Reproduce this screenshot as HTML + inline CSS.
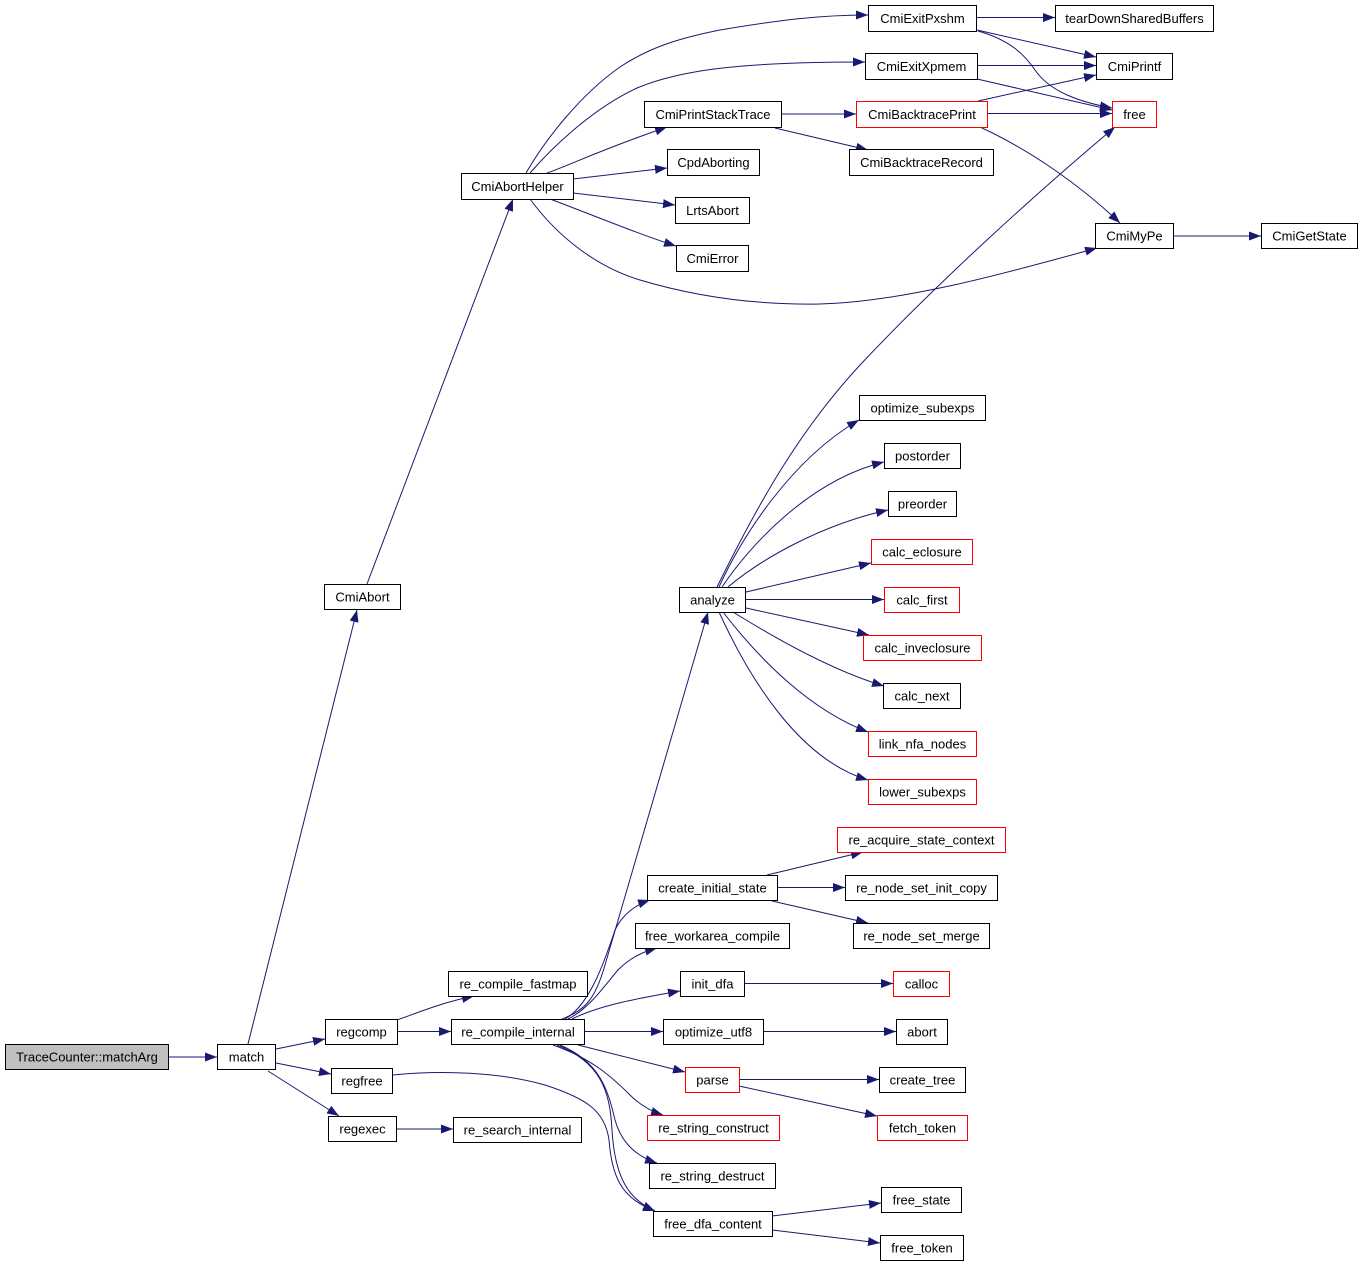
<!DOCTYPE html>
<html><head><meta charset="utf-8"><style>
html,body{margin:0;padding:0;background:#fff;}
svg{display:block;}
text{font-family:"Liberation Sans",Arial,sans-serif;font-size:13px;fill:#000;text-anchor:middle;}
.n{fill:#fff;stroke:#000;stroke-width:1;}
.r{fill:#fff;stroke:#ff0000;stroke-width:1;}
.e{fill:none;stroke:#191970;stroke-width:1;marker-end:url(#a);}
</style></head><body>
<svg width="1363" height="1264" viewBox="0 0 1363 1264" xmlns="http://www.w3.org/2000/svg">
<defs><marker id="a" markerUnits="userSpaceOnUse" markerWidth="13" markerHeight="9" refX="12" refY="4.5" orient="auto"><path d="M0,0 L12,4.5 L0,9 z" fill="#191970"/></marker></defs>
<g>
<path class="e" d="M168,1057 L217,1057"/>
<path class="e" d="M248,1044 L357,610"/>
<path class="e" d="M276,1049 L325,1039"/>
<path class="e" d="M276,1063 L331,1074"/>
<path class="e" d="M268,1071 L339,1116"/>
<path class="e" d="M367,584 L513,199"/>
<path class="e" d="M526,173 C545,140 580,95 620,67 C650,47 680,38 720,30 C780,20 820,15 868,15"/>
<path class="e" d="M530,173 C550,150 590,110 637,88 C680,70 740,62 865,62"/>
<path class="e" d="M547,173 C570,165 600,150 667,127"/>
<path class="e" d="M573,179 L667,168"/>
<path class="e" d="M573,193 L675,205"/>
<path class="e" d="M550,199 C580,210 640,235 676,246"/>
<path class="e" d="M530,199 C560,240 600,268 640,280 C700,298 760,305 820,304 C900,302 1000,275 1097,248"/>
<path class="e" d="M782,114 L856,114"/>
<path class="e" d="M775,128 L868,150"/>
<path class="e" d="M977,17.5 L1055,17.5"/>
<path class="e" d="M977,30 L1096,57"/>
<path class="e" d="M978,31 C1010,40 1025,55 1035,70 C1050,92 1080,102 1112,108"/>
<path class="e" d="M977,65.5 L1096,65.5"/>
<path class="e" d="M977,79 L1112,110"/>
<path class="e" d="M978,101 L1096,75"/>
<path class="e" d="M987,113.5 L1112,113.5"/>
<path class="e" d="M980,127 C1030,150 1080,185 1120,223"/>
<path class="e" d="M1173,236 L1261,236"/>
<path class="e" d="M717,587 C760,500 800,430 860,365 C940,280 1040,190 1115,127"/>
<path class="e" d="M719,587 C740,540 790,460 859,420"/>
<path class="e" d="M722,587 C750,545 810,480 884,462"/>
<path class="e" d="M728,587 C760,560 820,525 888,510"/>
<path class="e" d="M746,592 L871,563"/>
<path class="e" d="M746,599.5 L884,599.5"/>
<path class="e" d="M746,608 L869,635"/>
<path class="e" d="M733,612 C770,635 830,670 884,686"/>
<path class="e" d="M723,612 C760,660 810,710 868,732"/>
<path class="e" d="M719,612 C750,680 800,760 868,780"/>
<path class="e" d="M562,1019 C585,1010 595,1000 605,965 L708,612"/>
<path class="e" d="M565,1019 C590,1005 605,960 615,930 C622,915 635,905 650,900"/>
<path class="e" d="M568,1019 C590,1008 605,985 618,970 C630,958 642,952 657,948"/>
<path class="e" d="M572,1019 C600,1005 640,998 680,991"/>
<path class="e" d="M584,1031.5 L663,1031.5"/>
<path class="e" d="M578,1045 L685,1072"/>
<path class="e" d="M553,1045 C590,1058 610,1075 630,1095 C640,1105 650,1111 663,1115"/>
<path class="e" d="M560,1045 C600,1062 608,1090 615,1120 C622,1145 638,1157 657,1163"/>
<path class="e" d="M557,1045 C600,1062 610,1090 612,1130 C615,1180 630,1200 655,1211"/>
<path class="e" d="M393,1075 C440,1070 500,1072 545,1085 C585,1098 605,1110 609,1140 C612,1175 620,1198 655,1211"/>
<path class="e" d="M397,1020 C420,1012 440,1003 474,996"/>
<path class="e" d="M397,1031.5 L451,1031.5"/>
<path class="e" d="M396,1129 L453,1129"/>
<path class="e" d="M767,875 L863,852"/>
<path class="e" d="M777,887.5 L845,887.5"/>
<path class="e" d="M772,901 L868,923"/>
<path class="e" d="M744,983.5 L893,983.5"/>
<path class="e" d="M763,1031.5 L896,1031.5"/>
<path class="e" d="M739,1079.5 L879,1079.5"/>
<path class="e" d="M739,1086 L877,1116"/>
<path class="e" d="M772,1216 L881,1203"/>
<path class="e" d="M772,1230 L880,1243"/>
</g>
<g>
<rect x="5.5" y="1044.5" width="163" height="25" fill="#bfbfbf" stroke="#000"/><text x="87" y="1061.5">TraceCounter::matchArg</text>
<rect class="n" x="217.5" y="1044.5" width="58" height="25"/><text x="246.5" y="1061.5">match</text>
<rect class="n" x="324.5" y="584.5" width="76" height="25"/><text x="362.5" y="601.5">CmiAbort</text>
<rect class="n" x="325.5" y="1019.5" width="72" height="25"/><text x="361.5" y="1036.5">regcomp</text>
<rect class="n" x="331.5" y="1068.5" width="61" height="25"/><text x="362" y="1085.5">regfree</text>
<rect class="n" x="328.5" y="1116.5" width="68" height="25"/><text x="362.5" y="1133.5">regexec</text>
<rect class="n" x="461.5" y="173.5" width="112" height="26"/><text x="517.5" y="191">CmiAbortHelper</text>
<rect class="n" x="448.5" y="971.5" width="139" height="25"/><text x="518" y="988.5">re_compile_fastmap</text>
<rect class="n" x="451.5" y="1019.5" width="133" height="25"/><text x="518" y="1036.5">re_compile_internal</text>
<rect class="n" x="453.5" y="1117.5" width="128" height="25"/><text x="517.5" y="1134.5">re_search_internal</text>
<rect class="n" x="644.5" y="101.5" width="137" height="26"/><text x="713" y="119">CmiPrintStackTrace</text>
<rect class="n" x="667.5" y="149.5" width="92" height="26"/><text x="713.5" y="167">CpdAborting</text>
<rect class="n" x="675.5" y="197.5" width="74" height="26"/><text x="712.5" y="215">LrtsAbort</text>
<rect class="n" x="676.5" y="245.5" width="72" height="26"/><text x="712.5" y="263">CmiError</text>
<rect class="n" x="679.5" y="587.5" width="66" height="25"/><text x="712.5" y="604.5">analyze</text>
<rect class="n" x="647.5" y="875.5" width="130" height="25"/><text x="712.5" y="892.5">create_initial_state</text>
<rect class="n" x="635.5" y="923.5" width="154" height="25"/><text x="712.5" y="940.5">free_workarea_compile</text>
<rect class="n" x="680.5" y="971.5" width="64" height="25"/><text x="712.5" y="988.5">init_dfa</text>
<rect class="n" x="663.5" y="1019.5" width="100" height="25"/><text x="713.5" y="1036.5">optimize_utf8</text>
<rect class="r" x="685.5" y="1067.5" width="54" height="25"/><text x="712.5" y="1084.5">parse</text>
<rect class="r" x="647.5" y="1115.5" width="132" height="25"/><text x="713.5" y="1132.5">re_string_construct</text>
<rect class="n" x="649.5" y="1163.5" width="126" height="25"/><text x="712.5" y="1180.5">re_string_destruct</text>
<rect class="n" x="653.5" y="1211.5" width="119" height="25"/><text x="713" y="1228.5">free_dfa_content</text>
<rect class="n" x="868.5" y="5.5" width="108" height="26"/><text x="922.5" y="23">CmiExitPxshm</text>
<rect class="n" x="865.5" y="53.5" width="112" height="26"/><text x="921.5" y="71">CmiExitXpmem</text>
<rect class="r" x="856.5" y="101.5" width="131" height="26"/><text x="922" y="119">CmiBacktracePrint</text>
<rect class="n" x="849.5" y="149.5" width="144" height="26"/><text x="921.5" y="167">CmiBacktraceRecord</text>
<rect class="n" x="859.5" y="395.5" width="126" height="25"/><text x="922.5" y="412.5">optimize_subexps</text>
<rect class="n" x="884.5" y="443.5" width="76" height="25"/><text x="922.5" y="460.5">postorder</text>
<rect class="n" x="888.5" y="491.5" width="68" height="25"/><text x="922.5" y="508.5">preorder</text>
<rect class="r" x="871.5" y="539.5" width="101" height="25"/><text x="922" y="556.5">calc_eclosure</text>
<rect class="r" x="884.5" y="587.5" width="75" height="25"/><text x="922" y="604.5">calc_first</text>
<rect class="r" x="863.5" y="635.5" width="118" height="25"/><text x="922.5" y="652.5">calc_inveclosure</text>
<rect class="n" x="883.5" y="683.5" width="77" height="25"/><text x="922" y="700.5">calc_next</text>
<rect class="r" x="868.5" y="731.5" width="108" height="25"/><text x="922.5" y="748.5">link_nfa_nodes</text>
<rect class="r" x="868.5" y="779.5" width="108" height="25"/><text x="922.5" y="796.5">lower_subexps</text>
<rect class="r" x="837.5" y="827.5" width="168" height="25"/><text x="921.5" y="844.5">re_acquire_state_context</text>
<rect class="n" x="845.5" y="875.5" width="152" height="25"/><text x="921.5" y="892.5">re_node_set_init_copy</text>
<rect class="n" x="853.5" y="923.5" width="136" height="25"/><text x="921.5" y="940.5">re_node_set_merge</text>
<rect class="r" x="893.5" y="971.5" width="56" height="25"/><text x="921.5" y="988.5">calloc</text>
<rect class="n" x="896.5" y="1019.5" width="51" height="25"/><text x="922" y="1036.5">abort</text>
<rect class="n" x="879.5" y="1067.5" width="86" height="25"/><text x="922.5" y="1084.5">create_tree</text>
<rect class="r" x="877.5" y="1115.5" width="90" height="25"/><text x="922.5" y="1132.5">fetch_token</text>
<rect class="n" x="881.5" y="1187.5" width="80" height="25"/><text x="921.5" y="1204.5">free_state</text>
<rect class="n" x="880.5" y="1235.5" width="83" height="25"/><text x="922" y="1252.5">free_token</text>
<rect class="n" x="1055.5" y="5.5" width="158" height="26"/><text x="1134.5" y="23">tearDownSharedBuffers</text>
<rect class="n" x="1096.5" y="53.5" width="76" height="26"/><text x="1134.5" y="71">CmiPrintf</text>
<rect class="r" x="1112.5" y="101.5" width="44" height="26"/><text x="1134.5" y="119">free</text>
<rect class="n" x="1095.5" y="223.5" width="78" height="25"/><text x="1134.5" y="240.5">CmiMyPe</text>
<rect class="n" x="1261.5" y="223.5" width="96" height="25"/><text x="1309.5" y="240.5">CmiGetState</text>
</g>
</svg>
</body></html>
